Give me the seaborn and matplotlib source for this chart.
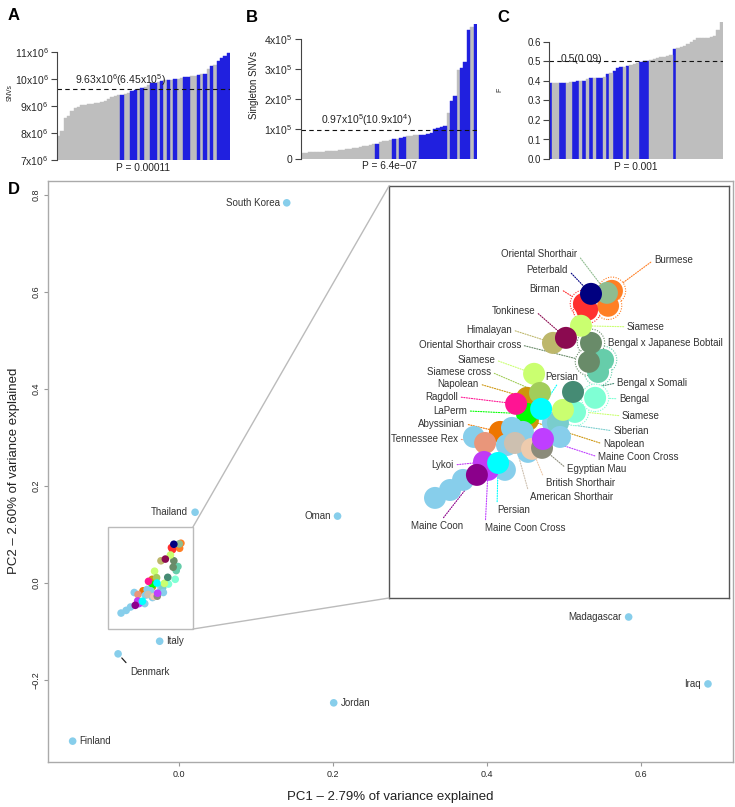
import seaborn as sns
import pandas as pd
import numpy as np
import matplotlib.pyplot as plt
from matplotlib.patches import Rectangle, ConnectionPatch

# ---------------- data: panels A-C (sorted samples, blue = highlighted samples)
snv_vals = [7.89, 8.08, 8.56, 8.62, 8.82, 8.94, 8.98, 9.02, 9.05, 9.07,
            9.09, 9.10, 9.12, 9.15, 9.20, 9.27, 9.32, 9.36, 9.39, 9.42,
            9.45, 9.50, 9.56, 9.58, 9.62, 9.68, 9.72, 9.76, 9.84, 9.86,
            9.90, 9.93, 9.95, 9.95, 9.97, 9.99, 10.01, 10.03, 10.06, 10.08,
            10.10, 10.12, 10.16, 10.18, 10.20, 10.38, 10.47, 10.53, 10.67, 10.79,
            10.84, 10.98]  # x1e6
snv_blue = [19, 22, 23, 25, 28, 29, 31, 33, 35, 38, 39, 42, 44, 46, 48, 49, 50, 51]

single_vals = [0.19, 0.21, 0.22, 0.23, 0.24, 0.25, 0.25, 0.26, 0.27, 0.27,
               0.28, 0.29, 0.31, 0.33, 0.35, 0.37, 0.38, 0.39, 0.42, 0.45,
               0.48, 0.50, 0.51, 0.58, 0.60, 0.61, 0.63, 0.66, 0.68, 0.71,
               0.73, 0.76, 0.78, 0.79, 0.80, 0.81, 0.81, 0.82, 0.87, 1.00,
               1.04, 1.06, 1.10, 1.52, 1.95, 2.10, 2.97, 3.05, 3.25, 4.30,
               4.40, 4.50]  # x1e5
single_blue = [22, 27, 29, 30, 35, 36, 37, 38, 39, 40, 41, 42, 44, 45, 47, 48, 49, 51]

f_vals = [0.39, 0.39, 0.39, 0.39, 0.39, 0.39, 0.395, 0.396, 0.40, 0.40,
          0.402, 0.41, 0.413, 0.414, 0.415, 0.417, 0.42, 0.435, 0.44, 0.45,
          0.465, 0.47, 0.472, 0.475, 0.48, 0.485, 0.49, 0.495, 0.50, 0.502,
          0.51, 0.515, 0.52, 0.522, 0.525, 0.528, 0.535, 0.565, 0.57, 0.572,
          0.58, 0.59, 0.60, 0.61, 0.62, 0.62, 0.62, 0.622, 0.625, 0.632,
          0.66, 0.70]
f_blue = [0, 3, 4, 7, 8, 10, 12, 14, 15, 17, 19, 20, 21, 23, 27, 28, 29, 37]

# ---------------- data: panel D (PCA)
country_names = ["South Korea", "Thailand", "Oman", "Madagascar", "Iraq",
                 "Jordan", "Italy", "Denmark", "Finland"]
country_pc1 = [0.140, 0.021, 0.206, 0.584, 0.687, 0.201, -0.025, -0.079, -0.138]
country_pc2 = [0.784, 0.146, 0.138, -0.070, -0.208, -0.247, -0.120, -0.146, -0.326]

# breed / random-bred samples, in drawing order (back to front)
cat_group = ["Bengal x Japanese Bobtail", "Bengal x Japanese Bobtail",
             "Oriental Shorthair cross", "Oriental Shorthair cross",
             "Burmese", "Burmese", "Birman", "Birman", "Oriental Shorthair",
             "Peterbald", "Siamese", "Himalayan", "Tonkinese", "Bengal", "Bengal",
             "Random", "Siberian", "Siamese", "Bengal x Somali", "Random",
             "Napolean", "Napolean", "LaPerm", "Ragdoll", "Siamese",
             "Siamese cross", "Persian", "Abyssinian", "Random", "Random",
             "Random", "Tennessee Rex", "Random", "Random", "American Shorthair",
             "British Shorthair", "Egyptian Mau", "Maine Coon Cross", "Random",
             "Random", "Random", "Random", "Maine Coon Cross", "Lykoi",
             "Maine Coon", "Persian"]
cat_pc1 = [-0.0013, -0.0035, -0.0066, -0.0075, 0.0026, 0.0009, -0.0097, -0.0083,
           0.0004, -0.0066, -0.0110, -0.0233, -0.0176, -0.0136, -0.0048,
           -0.0233, -0.0211, -0.0189, -0.0145, -0.0202, -0.0343, -0.0347,
           -0.0347, -0.0395, -0.0316, -0.0290, -0.0285, -0.0466, -0.0413,
           -0.0365, -0.0580, -0.0531, -0.0343, -0.0435, -0.0400, -0.0325,
           -0.0281, -0.0277, -0.0751, -0.0685, -0.0628, -0.0444, -0.0518,
           -0.0536, -0.0567, -0.0474]
cat_pc2 = [0.0341, 0.0257, 0.0459, 0.0327, 0.0821, 0.0717, 0.0731, 0.0689,
           0.0807, 0.0800, 0.0578, 0.0459, 0.0494, -0.0021, 0.0077,
           -0.0097, -0.0097, -0.0007, 0.0118, -0.0195, -0.0077, 0.0077,
           -0.0035, 0.0035, 0.0244, 0.0111, 0.0000, -0.0160, -0.0132,
           -0.0160, -0.0195, -0.0237, -0.0299, -0.0251, -0.0237, -0.0278,
           -0.0271, -0.0209, -0.0619, -0.0564, -0.0494, -0.0424, -0.0424,
           -0.0369, -0.0459, -0.0376]

group_colors = {
    "Random": "#87CEEB", "country": "#87CEEB",
    "Peterbald": "#000080", "Oriental Shorthair": "#8FBC8F", "Burmese": "#FF7F24",
    "Birman": "#FF3030", "Siamese": "#CAFF70", "Tonkinese": "#8B0A50",
    "Himalayan": "#BDB76B", "Bengal x Japanese Bobtail": "#66CDAA",
    "Oriental Shorthair cross": "#698B69", "Siamese cross": "#A2CD5A",
    "Persian": "#00FFFF", "Bengal x Somali": "#458B74", "Bengal": "#7FFFD4",
    "Ragdoll": "#FF1493", "Napolean": "#CD950C", "LaPerm": "#00FF00",
    "Abyssinian": "#EE7600", "Siberian": "#79CDCD", "Tennessee Rex": "#E9967A",
    "Maine Coon Cross": "#BF3EFF", "Egyptian Mau": "#8B8B7A",
    "British Shorthair": "#EECBAD", "American Shorthair": "#CDC0B0",
    "Lykoi": "#C13AF5", "Maine Coon": "#8B008B",
}

# inset labels: text, label position (layout), side, index of labelled sample
lab_text = ["Oriental Shorthair", "Peterbald", "Burmese", "Birman", "Tonkinese",
            "Siamese", "Himalayan", "Bengal x Japanese Bobtail",
            "Oriental Shorthair cross", "Siamese", "Siamese cross", "Napolean",
            "Persian", "Bengal x Somali", "Ragdoll", "Bengal", "LaPerm", "Siamese",
            "Abyssinian", "Siberian", "Tennessee Rex", "Napolean",
            "Maine Coon Cross", "Lykoi", "Egyptian Mau", "British Shorthair",
            "American Shorthair", "Persian", "Maine Coon", "Maine Coon Cross"]
lab_target = [8, 9, 4, 6, 12, 10, 11, 0, 3, 24, 25, 21, 26, 18, 23, 14, 22, 17,
              27, 16, 31, 20, 37, 43, 36, 35, 34, 45, 44, 42]
lab_x = [-0.0127, -0.0167, 0.0211, -0.0202, -0.0312, 0.0092, -0.0413, 0.0009,
         -0.0373, -0.0487, -0.0505, -0.0558, -0.0193, 0.0048, -0.0650, 0.0057,
         -0.0610, 0.0070, -0.0619, 0.0031, -0.0650, -0.0013, -0.0035, -0.0668,
         -0.0171, -0.0264, -0.0334, -0.0479, -0.0742, -0.0531]
lab_y = [0.1079, 0.0967, 0.1037, 0.0835, 0.0682, 0.0571, 0.0550, 0.0459,
         0.0445, 0.0341, 0.0257, 0.0174, 0.0223, 0.0181, 0.0084, 0.0070,
         -0.0014, -0.0049, -0.0104, -0.0153, -0.0209, -0.0244, -0.0334, -0.0390,
         -0.0418, -0.0515, -0.0612, -0.0703, -0.0814, -0.0828]
lab_ha = ["right", "right", "left", "right", "right", "left", "right", "left",
          "right", "right", "right", "right", "center", "left", "right", "left",
          "right", "left", "right", "left", "right", "left", "left", "right",
          "left", "left", "left", "left", "center", "left"]

# ---------------- figure
sns.set_style("ticks")
plt.rcParams["font.family"] = ["Liberation Sans", "DejaVu Sans"]
plt.rcParams["mathtext.fontset"] = "custom"
plt.rcParams["mathtext.rm"] = "Liberation Sans"
plt.rcParams["mathtext.it"] = "Liberation Sans:italic"
plt.rcParams["text.color"] = "#222222"

W, H = 735, 807
fig = plt.figure(figsize=(W / 100, H / 100), dpi=100)


def px_axes(l, t, r, b):
    return fig.add_axes([l / W, 1 - b / H, (r - l) / W, (b - t) / H])


def fig_text(x, y, s, **kw):
    fig.text(x / W, 1 - y / H, s, **kw)


def bar_panel(ax, vals, blue, ylim, ticks, ticklabels, tick_fs):
    df = pd.DataFrame({"i": range(len(vals)), "v": vals,
                       "g": ["b" if i in blue else "g" for i in range(len(vals))]})
    sns.barplot(data=df, x="i", y="v", hue="g",
                palette={"b": "#0000FF", "g": "#BEBEBE"},
                dodge=False, width=1, errorbar=None, legend=False, ax=ax)
    for p in ax.patches:
        p.set_edgecolor(p.get_facecolor())
        p.set_linewidth(0.3)
    ax.set_xlim(-0.5, len(vals) - 0.5)
    ax.set_ylim(*ylim)
    ax.set_xticks([])
    ax.set_xlabel("")
    ax.set_ylabel("")
    ax.set_yticks(ticks)
    ax.set_yticklabels(ticklabels, fontsize=tick_fs)
    for s in ["top", "right", "bottom"]:
        ax.spines[s].set_visible(False)
    ax.spines["left"].set_bounds(ticks[0], ticks[-1])
    ax.spines["left"].set_color("#444444")
    ax.tick_params(axis="y", length=4, width=0.8, color="#444444", pad=2)
    ax.set_facecolor("none")


# A
axA = px_axes(57, 52, 230, 160)
bar_panel(axA, snv_vals, snv_blue, (7, 11), [7, 8, 9, 10, 11],
          [f"{v}x10$^6$" for v in [7, 8, 9, 10, 11]], 7.5)
axA.axhline(9.63, color="#111111", ls=(0, (4, 3)), lw=0.8)
axA.text(0.365, 9.66, "9.63x10$^6$(6.45x10$^5$)", transform=axA.get_yaxis_transform(),
         ha="center", va="bottom", fontsize=7.5)
axA.annotate("P = 0.00011", (0.5, 0), xycoords="axes fraction", xytext=(0, -5.5),
             textcoords="offset points", ha="center", va="center", fontsize=7.3)
fig_text(10, 93, "SNVs", rotation=90, ha="center", va="center", fontsize=4.8)

# B
axB = px_axes(301, 24, 477, 159)
bar_panel(axB, single_vals, single_blue, (0, 4.5), [0, 1, 2, 3, 4],
          ["0"] + [f"{v}x10$^5$" for v in [1, 2, 3, 4]], 7.5)
axB.axhline(0.97, color="#111111", ls=(0, (4, 3)), lw=0.8)
axB.text(0.375, 1.04, "0.97x10$^5$(10.9x10$^4$)", transform=axB.get_yaxis_transform(),
         ha="center", va="bottom", fontsize=7.5)
axB.annotate("P = 6.4e\u221207", (0.5, 0), xycoords="axes fraction", xytext=(0, -5),
             textcoords="offset points", ha="center", va="center", fontsize=7.3)
fig_text(254, 85, "Singleton SNVs", rotation=90, ha="center", va="center", fontsize=7)

# C
axC = px_axes(549, 22.5, 723, 159)
bar_panel(axC, f_vals, f_blue, (0, 0.7), [0, 0.1, 0.2, 0.3, 0.4, 0.5, 0.6],
          [f"{v:.1f}" for v in [0, 0.1, 0.2, 0.3, 0.4, 0.5, 0.6]], 7)
axC.axhline(0.5, color="#111111", ls=(0, (4, 3)), lw=0.8)
axC.text(0.184, 0.515, "0.5(0.09)", transform=axC.get_yaxis_transform(),
         ha="center", va="center", fontsize=7.5)
axC.annotate("P = 0.001", (0.5, 0), xycoords="axes fraction", xytext=(0, -6),
             textcoords="offset points", ha="center", va="center", fontsize=7.3)
fig_text(500, 90, "F", rotation=90, ha="center", va="center", fontsize=5)

# D main PCA
axD = px_axes(48, 181, 733, 762)
df_c = pd.DataFrame({"pc1": country_pc1, "pc2": country_pc2, "grp": "country"})
df_b = pd.DataFrame({"pc1": cat_pc1, "pc2": cat_pc2, "grp": cat_group})
df_all = pd.concat([df_c, df_b], ignore_index=True)
sns.scatterplot(data=df_all, x="pc1", y="pc2", hue="grp", palette=group_colors,
                s=30, linewidth=0, legend=False, ax=axD, zorder=3)
axD.set_xlim(-0.170, 0.7195)
axD.set_ylim(-0.369, 0.829)
axD.set_xlabel("")
axD.set_ylabel("")
axD.set_xticks([0, 0.2, 0.4, 0.6])
axD.set_xticklabels(["0.0", "0.2", "0.4", "0.6"], fontsize=6.5)
yt = [-0.2, 0, 0.2, 0.4, 0.6, 0.8]
axD.set_yticks(yt)
axD.set_yticklabels([f"{v:.1f}".replace("-", "\u2212") for v in yt], fontsize=6.5,
                    rotation=90, va="center")
for s in axD.spines.values():
    s.set_color("#AAAAAA")
    s.set_linewidth(1)
axD.tick_params(length=3, width=0.8, color="#999999", pad=2.5)

left_lab = {"South Korea", "Thailand", "Oman", "Madagascar", "Iraq"}
for n, x, y in zip(country_names, country_pc1, country_pc2):
    if n == "Denmark":
        axD.annotate(n, (x, y), xytext=(8.5, -13), textcoords="offset points",
                     ha="left", va="center", fontsize=7, color="#333333",
                     arrowprops=dict(arrowstyle="-", color="#222222", lw=0.9,
                                     shrinkA=1, shrinkB=4, relpos=(0, 1)))
    elif n in left_lab:
        axD.annotate(n, (x, y), xytext=(-5, 0), textcoords="offset points",
                     ha="right", va="center", fontsize=7, color="#333333")
    else:
        axD.annotate(n, (x, y), xytext=(5, 0), textcoords="offset points",
                     ha="left", va="center", fontsize=7, color="#333333")

rx0, rx1, ry0, ry1 = -0.0922, 0.0182, -0.0948, 0.1155
axD.add_patch(Rectangle((rx0, ry0), rx1 - rx0, ry1 - ry0, fill=False,
                        ec="#BBBBBB", lw=1, zorder=2))

# D inset
axI = px_axes(389, 186, 729, 598)
axI.set_facecolor("white")
multi = df_b[df_b["grp"].isin(["Burmese", "Birman", "Bengal x Japanese Bobtail",
                                "Oriental Shorthair cross", "Bengal"])]
sns.scatterplot(data=multi, x="pc1", y="pc2", hue="grp", palette=group_colors,
                s=390, linewidth=0.8, legend=False, ax=axI, zorder=2.5)
ring = axI.collections[-1]
ring.set_edgecolors(ring.get_facecolors())
ring.set_facecolors("white")
ring.set_linestyle((0, (1, 1.3)))
sns.scatterplot(data=df_b, x="pc1", y="pc2", hue="grp", palette=group_colors,
                s=250, linewidth=0, legend=False, ax=axI, zorder=3)
for t, i, lx, ly, ha in zip(lab_text, lab_target, lab_x, lab_y, lab_ha):
    rp = {"left": (0, 0.5), "right": (1, 0.5), "center": (0.5, 0.5)}[ha]
    axI.annotate(t, (cat_pc1[i], cat_pc2[i]), xytext=(lx, ly), ha=ha, va="center",
                 fontsize=7, color="#333333", zorder=2,
                 arrowprops=dict(arrowstyle="-", linestyle=(0, (1, 1.3)),
                                 color=group_colors[cat_group[i]], lw=0.8,
                                 shrinkA=0, shrinkB=0, relpos=rp))
axI.set_xlim(-0.0953, 0.054)
axI.set_ylim(-0.1315, 0.155)
axI.set_xticks([])
axI.set_yticks([])
axI.set_xlabel("")
axI.set_ylabel("")
for s in axI.spines.values():
    s.set_color("#555555")
    s.set_linewidth(1)

for a, b in [((rx1, ry1), (0, 1)), ((rx1, ry0), (0, 0))]:
    con = ConnectionPatch(xyA=a, coordsA=axD.transData, xyB=b, coordsB=axI.transAxes,
                          color="#BBBBBB", lw=1)
    fig.add_artist(con)

fig_text(390, 797, "PC1 \u2013 2.79% of variance explained", ha="center", va="center",
         fontsize=9.5)
fig_text(14, 471, "PC2 \u2013 2.60% of variance explained", ha="center", va="center",
         fontsize=9.5, rotation=90)

for lab, x, y in [("A", 14, 16), ("B", 252, 17), ("C", 503, 17), ("D", 14, 190)]:
    fig_text(x, y, lab, ha="center", va="center", fontsize=12, weight="bold",
             color="black")

fig.savefig("out.png", dpi=100)
